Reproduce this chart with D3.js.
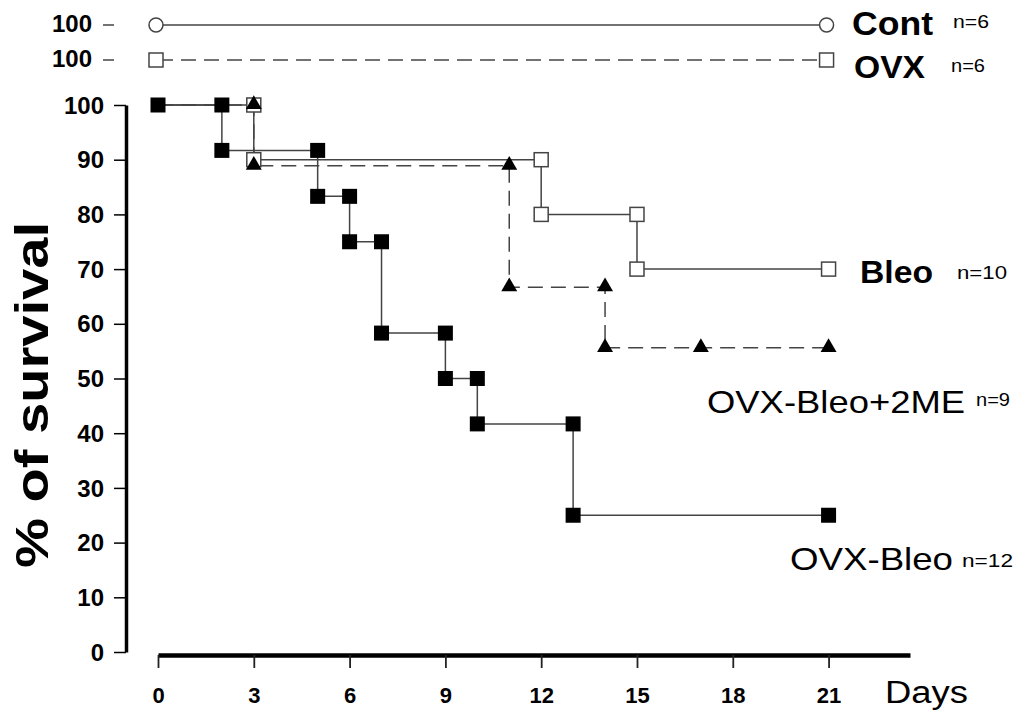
<!DOCTYPE html>
<html lang="en">
<head>
<meta charset="UTF-8" />
<title>% of survival</title>
<script src="https://d3js.org/d3.v7.min.js"></script>
<style>
    body { margin: 0; background: #fff; }
    svg { display: block; font-family: Arial, "Liberation Sans", sans-serif; }
    .axis text { fill: #000; font-weight: bold; }
</style>
</head>
<body>
<div id="chart"></div>
<script>
    // Survival steps (day, % surviving)
    const ovxBleoDays = [0, 2, 2, 5, 5, 6, 6, 7, 7, 9, 9, 10, 10, 13, 13, 21];
    const ovxBleoVals = [100, 100, 91.7, 91.7, 83.3, 83.3, 75, 75, 58.3, 58.3, 50, 50, 41.7, 41.7, 25, 25];

    const bleoDays = [0, 3, 3, 12, 12, 15, 15, 21];
    const bleoVals = [100, 100, 90, 90, 80, 80, 70, 70];

    const meDays = [0, 3, 3, 11, 11, 14, 14, 17, 21];
    const meVals = [100, 100, 88.9, 88.9, 66.7, 66.7, 55.6, 55.6, 55.6];

    // controls drawn above the main panel
    const topGroups = ["Cont", "OVX"];
    const topDays = [0, 21];
    const topVals = [100, 100];

    const xTicks = [0, 3, 6, 9, 12, 15, 18, 21];
    const yTicks = [0, 10, 20, 30, 40, 50, 60, 70, 80, 90, 100];

    const W = 1023, H = 721;
    const svg = d3.select("#chart").append("svg").attr("width", W).attr("height", H);

    const x = d3.scaleLinear().domain([0, 23.55]).range([158, 910]);
    const y = d3.scaleLinear().domain([0, 100]).range([652, 105]);
    const yTop = d3.scalePoint().domain(topGroups).range([25, 60]);

    const lineCol = "#444";
    const dash = "15,8";

    // y axis
    const gy = svg.append("g").attr("class", "axis")
        .attr("transform", "translate(126,0)")
        .call(d3.axisLeft(y).tickValues(yTicks).tickSize(12).tickSizeOuter(0).tickPadding(10));
    gy.select(".domain").attr("stroke", "#000").attr("stroke-width", 3.5);
    gy.selectAll(".tick line").attr("stroke", "#000").attr("stroke-width", 1.5);
    gy.selectAll(".tick text").attr("font-size", 24).attr("dy", "0.34em");

    // x axis
    const gx = svg.append("g").attr("class", "axis")
        .attr("transform", "translate(0,655)")
        .call(d3.axisBottom(x).tickValues(xTicks).tickSize(13).tickSizeOuter(0).tickPadding(19));
    gx.select(".domain").attr("stroke", "#000").attr("stroke-width", 4.5);
    gx.selectAll(".tick line").attr("stroke", "#222").attr("stroke-width", 1.8);
    gx.selectAll(".tick text").attr("font-size", 22);

    svg.append("text").attr("x", 885).attr("y", 703)
        .attr("font-size", 31).attr("textLength", 83).attr("lengthAdjust", "spacingAndGlyphs")
        .text("Days");

    svg.append("text")
        .attr("transform", "translate(48,395) rotate(-90)")
        .attr("text-anchor", "middle").attr("font-size", 46).attr("font-weight", "bold")
        .attr("textLength", 346).attr("lengthAdjust", "spacingAndGlyphs")
        .text("% of survival");

    // top rows: Cont and OVX
    topGroups.forEach((g, i) => {
        const yy = yTop(g);
        svg.append("text").attr("x", 92).attr("y", yy).attr("dy", "0.3em")
            .attr("text-anchor", "end").attr("font-size", 24).attr("font-weight", "bold")
            .text(topVals[0]);
        svg.append("line").attr("x1", 103).attr("x2", 114).attr("y1", yy).attr("y2", yy)
            .attr("stroke", lineCol).attr("stroke-width", 1.5);
        svg.append("line")
            .attr("x1", x(topDays[0])).attr("x2", x(topDays[1]))
            .attr("y1", yy).attr("y2", yy)
            .attr("stroke", lineCol).attr("stroke-width", 1.5)
            .attr("stroke-dasharray", i === 1 ? dash : null);
        topDays.forEach(d => {
            if (i === 0) {
                svg.append("circle").attr("cx", x(d) - 2).attr("cy", yy).attr("r", 7)
                    .attr("fill", "#fff").attr("stroke", lineCol).attr("stroke-width", 1.5);
            } else {
                svg.append("rect").attr("x", x(d) - 2 - 7).attr("y", yy - 7)
                    .attr("width", 14).attr("height", 14)
                    .attr("fill", "#fff").attr("stroke", lineCol).attr("stroke-width", 1.5);
            }
        });
    });

    // step lines
    const line = d3.line().x(d => x(d[0])).y(d => y(d[1]));
    const zip = (a, b) => a.map((v, i) => [v, b[i]]);
    const meData = zip(meDays, meVals);
    const bleoData = zip(bleoDays, bleoVals);
    const ovxData = zip(ovxBleoDays, ovxBleoVals);

    svg.append("path").datum(meData).attr("d", line).attr("fill", "none")
        .attr("stroke", lineCol).attr("stroke-width", 1.5).attr("stroke-dasharray", dash);
    svg.append("path").datum(bleoData).attr("d", line).attr("fill", "none")
        .attr("stroke", lineCol).attr("stroke-width", 1.5);
    svg.append("path").datum(ovxData).attr("d", line).attr("fill", "none")
        .attr("stroke", lineCol).attr("stroke-width", 1.5);

    // markers (no marker at day 0 for Bleo and OVX-Bleo+2ME)
    svg.append("g").selectAll("rect").data(bleoData.slice(1)).join("rect")
        .attr("x", d => x(d[0]) - 7).attr("y", d => y(d[1]) - 7)
        .attr("width", 14).attr("height", 14)
        .attr("fill", "#fff").attr("stroke", lineCol).attr("stroke-width", 1.5);

    const tri = d3.symbol().type(d3.symbolTriangle).size(110);
    svg.append("g").selectAll("path").data(meData.slice(1)).join("path")
        .attr("d", tri)
        .attr("transform", d => `translate(${x(d[0])},${y(d[1]) - 0.5})`)
        .attr("fill", "#000");

    svg.append("g").selectAll("rect").data(ovxData).join("rect")
        .attr("x", d => x(d[0]) - 7.5).attr("y", d => y(d[1]) - 7.5)
        .attr("width", 15).attr("height", 15)
        .attr("fill", "#000");

    // series labels
    const labels = [
        { t: "Cont", x: 852, y: 35, size: 34, bold: true, w: 81 },
        { t: "n=6", x: 953, y: 28, size: 18, w: 36 },
        { t: "OVX", x: 854, y: 78, size: 32, bold: true, w: 71 },
        { t: "n=6", x: 951, y: 72, size: 18, w: 34 },
        { t: "Bleo", x: 860, y: 283, size: 32, bold: true, w: 73 },
        { t: "n=10", x: 957, y: 279, size: 18, w: 50 },
        { t: "OVX-Bleo+2ME", x: 707, y: 413, size: 32, w: 258 },
        { t: "n=9", x: 976, y: 406, size: 18, w: 34 },
        { t: "OVX-Bleo", x: 790, y: 570, size: 32, w: 163 },
        { t: "n=12", x: 962, y: 567, size: 18, w: 51 }
    ];
    svg.append("g").selectAll("text").data(labels).join("text")
        .attr("x", d => d.x).attr("y", d => d.y)
        .attr("font-size", d => d.size)
        .attr("font-weight", d => d.bold ? "bold" : "normal")
        .attr("textLength", d => d.w).attr("lengthAdjust", "spacingAndGlyphs")
        .text(d => d.t);
</script>
</body>
</html>
